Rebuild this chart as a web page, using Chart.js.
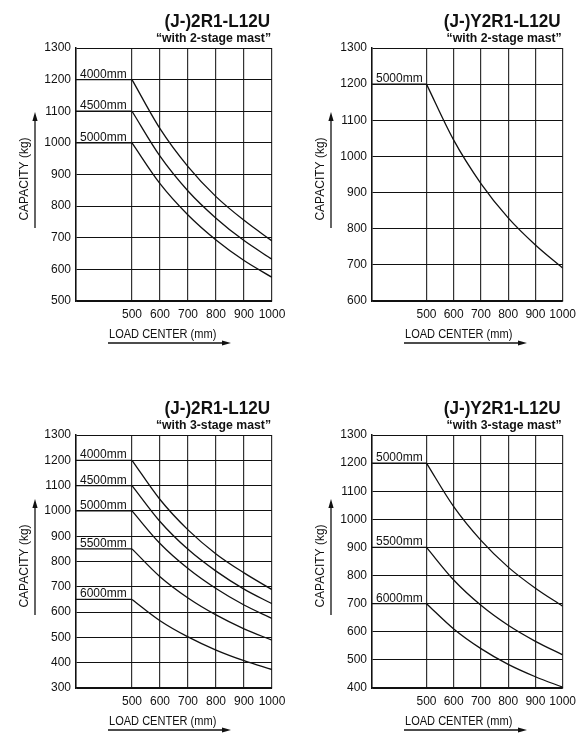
<!DOCTYPE html>
<html>
<head>
<meta charset="utf-8">
<script src="https://cdn.jsdelivr.net/npm/chart.js@4.4.0/dist/chart.umd.min.js"></script>
<style>
  body { margin: 0; background: #fff; }
  .cell { position: absolute; }
  canvas { display: block; }
</style>
</head>
<body>
<div class="cell" style="left:0px;top:0px"><canvas id="c0" width="296" height="346"></canvas></div>
<div class="cell" style="left:296px;top:0px"><canvas id="c1" width="286" height="346"></canvas></div>
<div class="cell" style="left:0px;top:387px"><canvas id="c2" width="296" height="346"></canvas></div>
<div class="cell" style="left:296px;top:387px"><canvas id="c3" width="286" height="346"></canvas></div>
<script>
// load center (mm) where the curves are read
const loadCenter = [300, 500, 600, 700, 800, 900, 1000];

const titles = ["(J-)2R1-L12U", "(J-)Y2R1-L12U", "(J-)2R1-L12U", "(J-)Y2R1-L12U"];
const subtitles = ["“with 2-stage mast”", "“with 2-stage mast”", "“with 3-stage mast”", "“with 3-stage mast”"];
const yMins = [500, 600, 300, 400];
const yMax = 1300;

// (J-)2R1-L12U, 2-stage mast
const mastsA = ["4000mm", "4500mm", "5000mm"];
const capA = [
    [1200, 1200, 1045, 925, 830, 755, 690],
    [1100, 1100, 958, 848, 762, 691, 632],
    [1000, 1000, 871, 772, 693, 628, 575]
];

// (J-)Y2R1-L12U, 2-stage mast
const mastsB = ["5000mm"];
const capB = [
    [1200, 1200, 1045, 925, 830, 755, 691]
];

// (J-)2R1-L12U, 3-stage mast
const mastsC = ["4000mm", "4500mm", "5000mm", "5500mm", "6000mm"];
const capC = [
    [1200, 1200, 1045, 925, 830, 755, 689],
    [1100, 1100, 958, 848, 762, 691, 633],
    [1000, 1000, 871, 772, 693, 628, 575],
    [850, 850, 740, 656, 589, 534, 489],
    [650, 650, 566, 502, 450, 408, 373]
];

// (J-)Y2R1-L12U, 3-stage mast
const mastsD = ["5000mm", "5500mm", "6000mm"];
const capD = [
    [1200, 1200, 1045, 925, 830, 755, 691],
    [900, 900, 784, 694, 623, 566, 518],
    [700, 700, 610, 540, 484, 440, 403]
];

const FONT = '"Liberation Sans", Arial, sans-serif';
const INK = "#111";

function arrow(ctx, x1, y1, x2, y2) {
    const ang = Math.atan2(y2 - y1, x2 - x1);
    ctx.beginPath();
    ctx.moveTo(x1, y1);
    ctx.lineTo(x2 - 6 * Math.cos(ang), y2 - 6 * Math.sin(ang));
    ctx.lineWidth = 1.3;
    ctx.stroke();
    ctx.beginPath();
    ctx.moveTo(x2, y2);
    ctx.lineTo(x2 - 9 * Math.cos(ang) + 2.6 * Math.sin(ang), y2 - 9 * Math.sin(ang) - 2.6 * Math.cos(ang));
    ctx.lineTo(x2 - 9 * Math.cos(ang) - 2.6 * Math.sin(ang), y2 - 9 * Math.sin(ang) + 2.6 * Math.cos(ang));
    ctx.closePath();
    ctx.fill();
}

// text squeezed horizontally by sx, anchored at its right or left edge
function squeezed(ctx, text, x, y, sx, alignRight) {
    ctx.save();
    const w = ctx.measureText(text).width * sx;
    ctx.translate(alignRight ? x - w : x, y);
    ctx.scale(sx, 1);
    ctx.textAlign = "left";
    ctx.fillText(text, 0, 0);
    ctx.restore();
}

const decorPlugin = {
    id: "decor",
    afterDraw(chart, args, opts) {
        const ctx = chart.ctx;
        const area = chart.chartArea;
        const yScale = chart.scales.y;
        ctx.save();
        ctx.fillStyle = INK;
        ctx.strokeStyle = INK;
        ctx.textBaseline = "alphabetic";

        // title + subtitle
        ctx.font = "bold 19px " + FONT;
        squeezed(ctx, opts.title, area.right - 2, 27, 0.9, true);
        ctx.font = "bold 12.5px " + FONT;
        squeezed(ctx, opts.subtitle, area.right - 1, 41.5, 0.98, true);

        // mast height labels sitting on the flat part of each curve
        ctx.font = "12px " + FONT;
        ctx.textAlign = "left";
        chart.data.datasets.forEach(ds => {
            if (!ds.mastLabel) return;
            const y = yScale.getPixelForValue(ds.data[0].y);
            ctx.fillText(ds.mastLabel, area.left + 4, y - 2);
        });

        // y axis title with arrow
        ctx.save();
        ctx.translate(28, 179);
        ctx.rotate(-Math.PI / 2);
        ctx.textAlign = "center";
        ctx.font = "12px " + FONT;
        ctx.fillText("CAPACITY (kg)", 0, 0);
        ctx.restore();
        arrow(ctx, 35, 228, 35, 112);

        // x axis title with arrow
        ctx.font = "12px " + FONT;
        squeezed(ctx, "LOAD CENTER (mm)", 109, 337.5, 0.92, false);
        arrow(ctx, 108, 343, 231, 343);

        ctx.restore();
    }
};

function makeChart(id, idx, masts, caps, padRight) {
    const datasets = [];
    masts.forEach((m, i) => {
        const pts = loadCenter.map((x, j) => ({ x: x, y: caps[i][j] }));
        // flat part up to 500 mm
        datasets.push({
            label: m,
            mastLabel: m,
            data: pts.slice(0, 2),
            borderColor: INK,
            borderWidth: 1.3,
            pointRadius: 0,
            tension: 0
        });
        // falling part from 500 mm on
        datasets.push({
            label: m,
            data: pts.slice(1),
            borderColor: INK,
            borderWidth: 1.3,
            pointRadius: 0,
            cubicInterpolationMode: "monotone"
        });
    });

    return new Chart(document.getElementById(id), {
        type: "line",
        data: { datasets },
        options: {
            responsive: false,
            animation: false,
            layout: { padding: { top: 48, right: padRight, left: 0, bottom: 0 } },
            plugins: {
                legend: { display: false },
                tooltip: { enabled: false },
                decor: { title: titles[idx], subtitle: subtitles[idx] }
            },
            scales: {
                x: {
                    type: "linear",
                    min: 300,
                    max: 1000,
                    afterFit(scale) { scale.height = 45; },
                    border: { display: true, color: INK, width: 1.5 },
                    grid: {
                        drawTicks: false,
                        lineWidth: 1.2,
                        color: c => (c.tick && c.tick.value > 300 && c.tick.value < 500) ? "rgba(0,0,0,0)" : "#333"
                    },
                    ticks: {
                        stepSize: 100,
                        autoSkip: false,
                        maxRotation: 0,
                        padding: 6,
                        color: INK,
                        font: { family: FONT, size: 12 },
                        callback: v => v >= 500 ? String(v) : ""
                    }
                },
                y: {
                    min: yMins[idx],
                    max: yMax,
                    afterFit(scale) { scale.width = 76; },
                    border: { display: true, color: INK, width: 1.5 },
                    grid: { drawTicks: false, color: INK, lineWidth: 1 },
                    ticks: {
                        stepSize: 100,
                        padding: 5,
                        color: INK,
                        font: { family: FONT, size: 12 },
                        callback: v => String(v)
                    }
                }
            }
        },
        plugins: [decorPlugin]
    });
}

makeChart("c0", 0, mastsA, capA, 24);
makeChart("c1", 1, mastsB, capB, 13.3);
makeChart("c2", 2, mastsC, capC, 24);
makeChart("c3", 3, mastsD, capD, 13.3);
</script>
</body>
</html>
